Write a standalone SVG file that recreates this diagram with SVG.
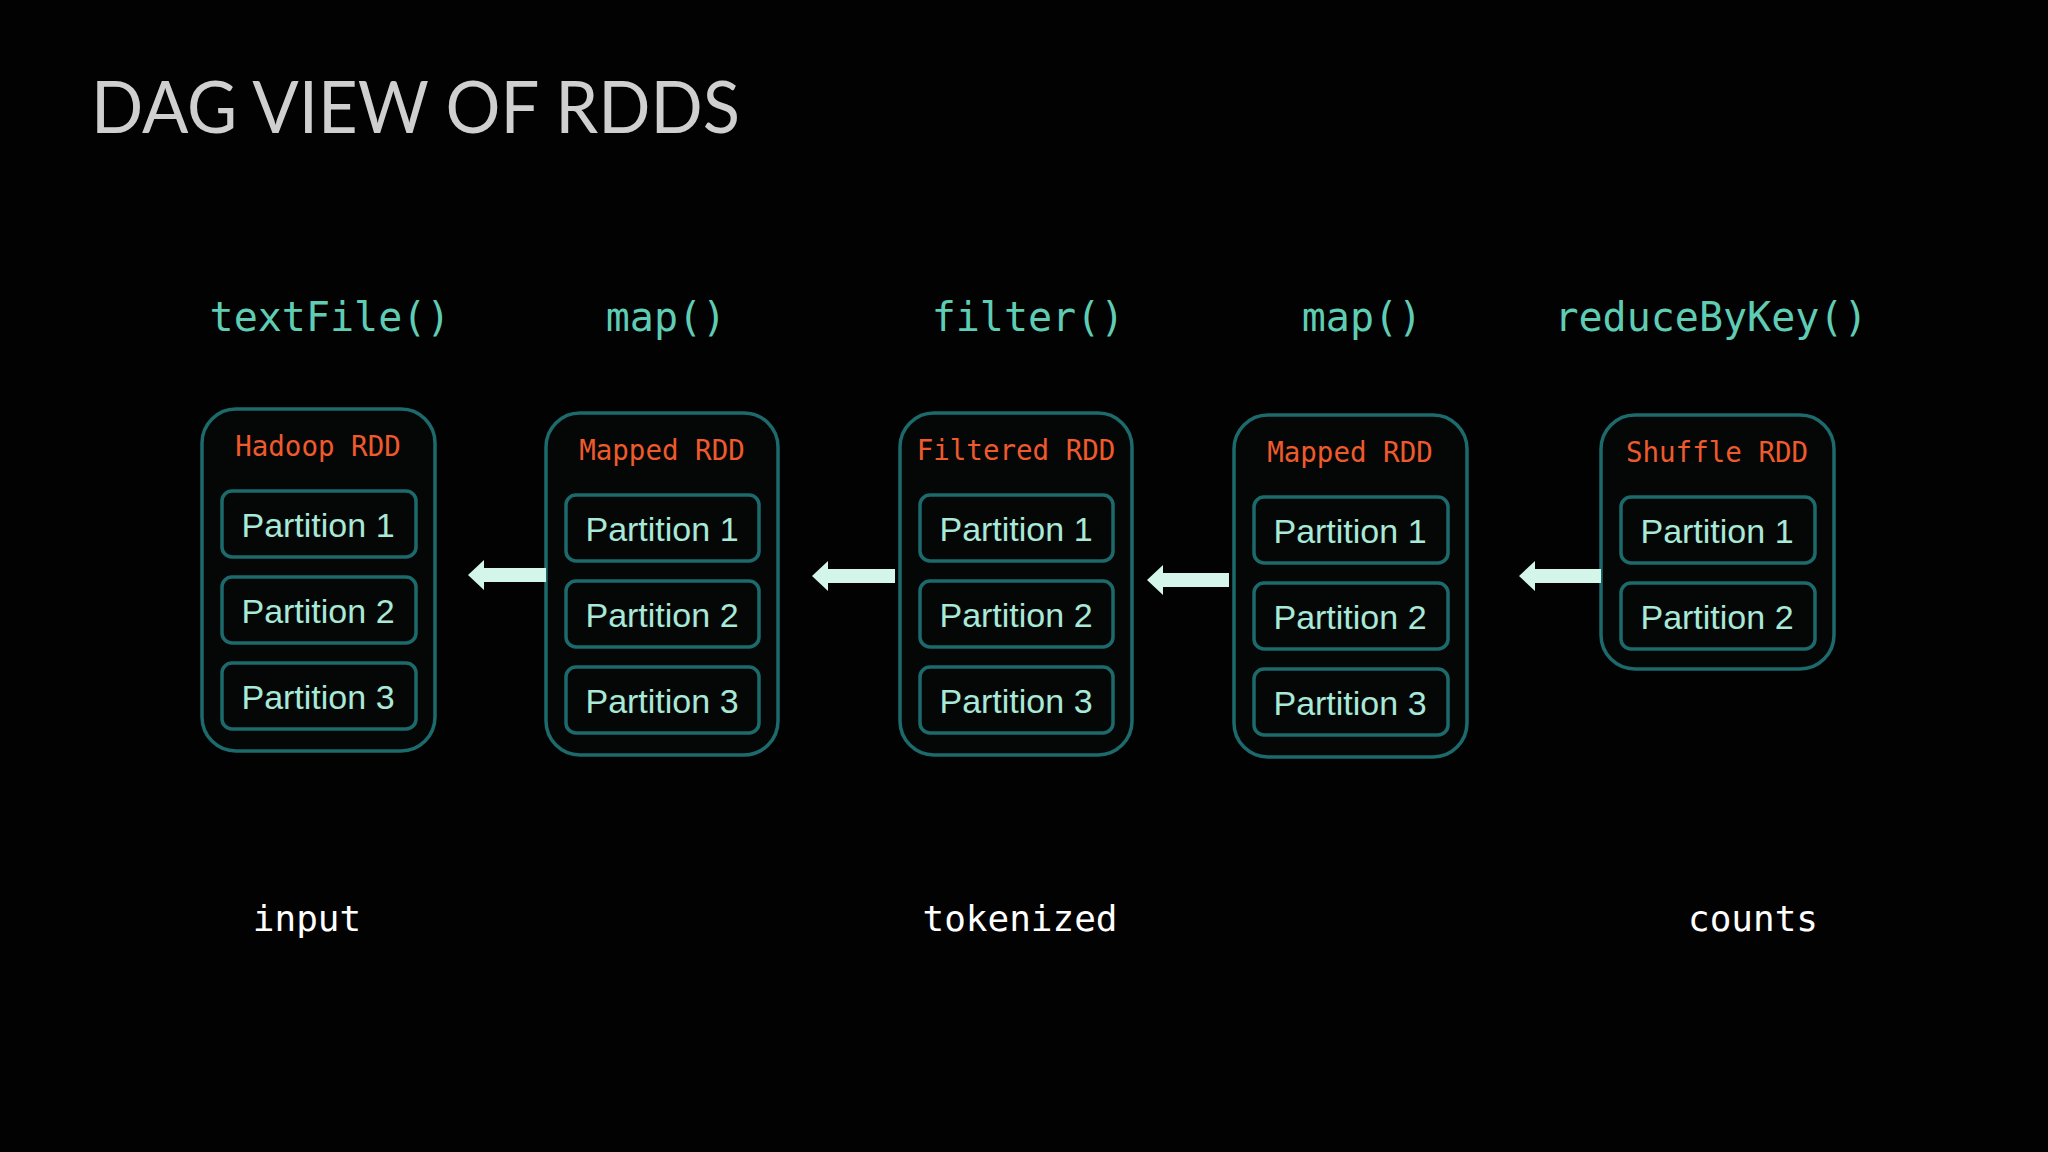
<svg xmlns="http://www.w3.org/2000/svg" width="2048" height="1152" viewBox="0 0 2048 1152">
<style>
.outer{fill:#050707;stroke:#1d6a6c;stroke-width:3.5}
.part{fill:#050707;stroke:#1d6a6c;stroke-width:3.5}
.pt{font-family:"Liberation Sans",Arial,sans-serif;font-size:34px;fill:#a9e9d8;text-anchor:middle}
.rdd{font-family:"DejaVu Sans Mono","Liberation Mono",monospace;font-size:27.5px;fill:#ef5a2c;text-anchor:middle}
.fn{font-family:"DejaVu Sans Mono","Liberation Mono",monospace;font-size:40px;fill:#5fcdb4;text-anchor:middle}
.bot{font-family:"DejaVu Sans Mono","Liberation Mono",monospace;font-size:36px;fill:#ffffff;text-anchor:middle}
.arr{fill:#d4f5ea}
</style>
<rect width="2048" height="1152" fill="#020202"/>
<text x="91" y="133" font-family="Lato,'Open Sans',sans-serif" font-weight="400" font-size="72" fill="#cfcfcf" textLength="649" lengthAdjust="spacingAndGlyphs">DAG VIEW OF RDDS</text>
<g id="labels">
<text class="fn" x="330" y="331">textFile()</text>
<text class="fn" x="666" y="331">map()</text>
<text class="fn" x="1028" y="331">filter()</text>
<text class="fn" x="1362" y="331">map()</text>
<text class="fn" x="1711" y="331">reduceByKey()</text>
<text class="bot" x="307" y="931">input</text>
<text class="bot" x="1020" y="931">tokenized</text>
<text class="bot" x="1753" y="931">counts</text>
</g>
<g id="hadoop">
<rect class="outer" x="202" y="409" width="233" height="342" rx="34"/>
<text class="rdd" x="318" y="456">Hadoop RDD</text>
<rect class="part" x="222" y="491" width="194" height="66" rx="10"/><text class="pt" x="318" y="537">Partition 1</text>
<rect class="part" x="222" y="577" width="194" height="66" rx="10"/><text class="pt" x="318" y="623">Partition 2</text>
<rect class="part" x="222" y="663" width="194" height="66" rx="10"/><text class="pt" x="318" y="709">Partition 3</text>
</g>
<g id="mapped1">
<rect class="outer" x="546" y="413" width="232" height="342" rx="34"/>
<text class="rdd" x="662" y="460">Mapped RDD</text>
<rect class="part" x="566" y="495" width="193" height="66" rx="10"/><text class="pt" x="662" y="541">Partition 1</text>
<rect class="part" x="566" y="581" width="193" height="66" rx="10"/><text class="pt" x="662" y="627">Partition 2</text>
<rect class="part" x="566" y="667" width="193" height="66" rx="10"/><text class="pt" x="662" y="713">Partition 3</text>
</g>
<g id="filtered">
<rect class="outer" x="900" y="413" width="232" height="342" rx="34"/>
<text class="rdd" x="1016" y="460">Filtered RDD</text>
<rect class="part" x="920" y="495" width="193" height="66" rx="10"/><text class="pt" x="1016" y="541">Partition 1</text>
<rect class="part" x="920" y="581" width="193" height="66" rx="10"/><text class="pt" x="1016" y="627">Partition 2</text>
<rect class="part" x="920" y="667" width="193" height="66" rx="10"/><text class="pt" x="1016" y="713">Partition 3</text>
</g>
<g id="mapped2">
<rect class="outer" x="1234" y="415" width="233" height="342" rx="34"/>
<text class="rdd" x="1350" y="462">Mapped RDD</text>
<rect class="part" x="1254" y="497" width="194" height="66" rx="10"/><text class="pt" x="1350" y="543">Partition 1</text>
<rect class="part" x="1254" y="583" width="194" height="66" rx="10"/><text class="pt" x="1350" y="629">Partition 2</text>
<rect class="part" x="1254" y="669" width="194" height="66" rx="10"/><text class="pt" x="1350" y="715">Partition 3</text>
</g>
<g id="shuffle">
<rect class="outer" x="1601" y="415" width="233" height="254" rx="34"/>
<text class="rdd" x="1717" y="462">Shuffle RDD</text>
<rect class="part" x="1621" y="497" width="194" height="66" rx="10"/><text class="pt" x="1717" y="543">Partition 1</text>
<rect class="part" x="1621" y="583" width="194" height="66" rx="10"/><text class="pt" x="1717" y="629">Partition 2</text>
</g>
<g id="connectors">
<path class="arr" d="M468 575 L484 560 L484 568 L546 568 L546 582 L484 582 L484 590 Z"/>
<path class="arr" d="M812 576 L828 561 L828 569 L895 569 L895 583 L828 583 L828 591 Z"/>
<path class="arr" d="M1147 580 L1163 565 L1163 573 L1229 573 L1229 587 L1163 587 L1163 595 Z"/>
<path class="arr" d="M1519 576 L1535 561 L1535 569 L1601 569 L1601 583 L1535 583 L1535 591 Z"/>
</g>
</svg>
